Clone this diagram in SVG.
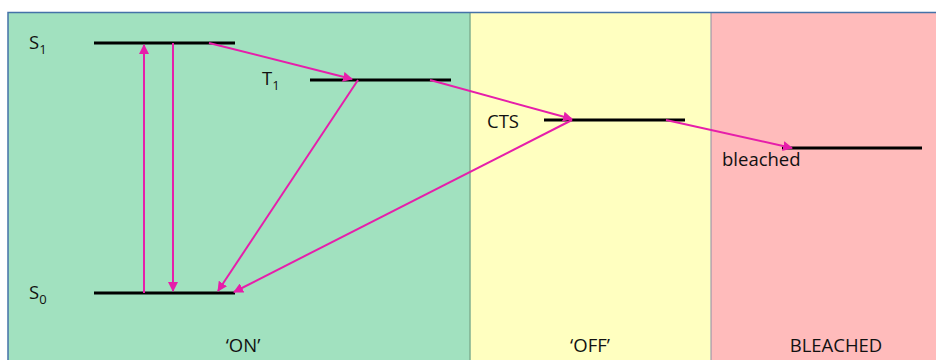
<svg xmlns="http://www.w3.org/2000/svg" width="937" height="360" viewBox="0 0 937 360">
<style>
.lvl{stroke:#000;stroke-width:3.2;fill:none}
.arr{stroke:#E61EAA;stroke-width:2;fill:none;marker-end:url(#ah)}
text{font-family:"Open Sans","Liberation Sans",sans-serif;font-size:18.5px;fill:#111}
.sub{font-size:13px}
</style>
<defs>
<marker id="ah" viewBox="0 0 10 10" refX="9" refY="5" markerWidth="5" markerHeight="5" orient="auto" markerUnits="strokeWidth">
<path d="M0,0 L10,5 L0,10 z" fill="#E61EAA"/>
</marker>
</defs>
<g id="panels">
<rect x="8" y="13" width="462" height="350" fill="#A1E1BF"/>
<rect x="470" y="13" width="241" height="350" fill="#FFFFC0"/>
<rect x="711" y="13" width="225" height="350" fill="#FFBBBB"/>
<line x1="470" y1="13" x2="470" y2="360" stroke="#7FAF90" stroke-width="1.5"/>
<line x1="711" y1="13" x2="711" y2="360" stroke="#8A8FA8" stroke-width="1"/>
<path d="M8,360 V12.5 H936" stroke="#4472A8" stroke-width="1.5" fill="none"/>
</g>
<g id="S1"><line class="lvl" x1="94" y1="43" x2="235" y2="43"/><text x="29" y="49">S<tspan class="sub" dy="5">1</tspan></text></g>
<g id="T1"><line class="lvl" x1="310" y1="80" x2="451" y2="80"/><text x="262" y="85">T<tspan class="sub" dy="5">1</tspan></text></g>
<g id="CTS"><line class="lvl" x1="544" y1="120" x2="685" y2="120"/><text x="487" y="128">CTS</text></g>
<g id="bleached"><line class="lvl" x1="782" y1="148" x2="922" y2="148"/><text x="722" y="166">bleached</text></g>
<g id="S0"><line class="lvl" x1="94" y1="293" x2="235" y2="293"/><text x="29" y="299">S<tspan class="sub" dy="5">0</tspan></text></g>
<g id="labels">
<text x="243" y="352" text-anchor="middle">‘ON’</text>
<text x="590" y="352" text-anchor="middle">‘OFF’</text>
<text x="836" y="352" text-anchor="middle">BLEACHED</text>
</g>
<g id="connectors">
<line class="arr" x1="144" y1="293" x2="144" y2="45"/>
<line class="arr" x1="173" y1="43" x2="173" y2="291"/>
<line class="arr" x1="209" y1="43" x2="352" y2="79"/>
<line class="arr" x1="358" y1="80" x2="218" y2="291"/>
<line class="arr" x1="430" y1="80" x2="572" y2="119"/>
<line class="arr" x1="572" y1="120" x2="234" y2="292"/>
<line class="arr" x1="666" y1="120" x2="792" y2="148"/>
</g>
</svg>
